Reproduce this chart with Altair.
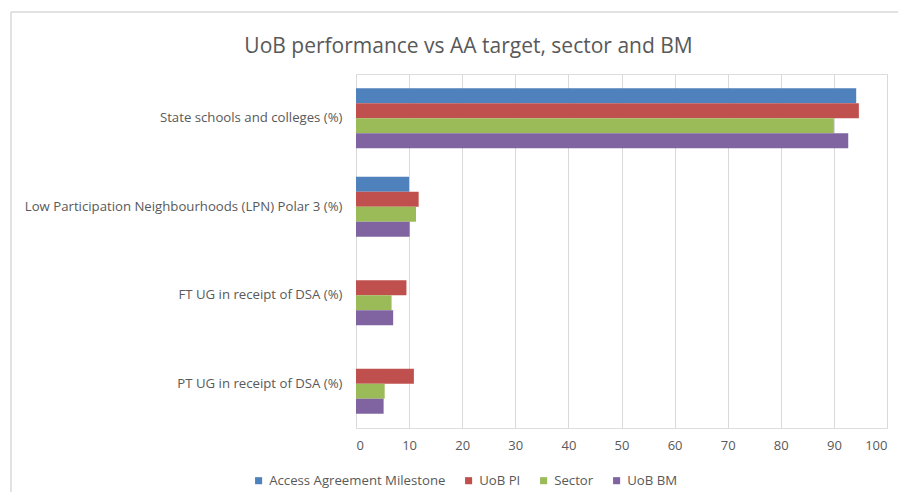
import altair as alt
import pandas as pd

categories = [
    "State schools and colleges (%)",
    "Low Participation Neighbourhoods (LPN) Polar 3 (%)",
    "FT UG in receipt of DSA (%)",
    "PT UG in receipt of DSA (%)",
]
series = ["Access Agreement Milestone", "UoB PI", "Sector", "UoB BM"]
colors = ["#4F81BD", "#C0504D", "#9BBB59", "#8064A2"]

access_milestone = [94.2, 10.0, None, None]
uob_pi = [94.7, 11.8, 9.5, 10.9]
sector = [90.0, 11.3, 6.7, 5.4]
uob_bm = [92.7, 10.1, 7.0, 5.2]

tick_values = [0, 10, 20, 30, 40, 50, 60, 70, 80, 90, 100]

rows = []
for s, vals in zip(series, [access_milestone, uob_pi, sector, uob_bm]):
    for c, v in zip(categories, vals):
        if v is not None:
            rows.append({"category": c, "series": s, "value": v})
df = pd.DataFrame(rows)

FONT = "Open Sans"
GREY = "#595959"
one = pd.DataFrame({"a": [0]})

frame_top = alt.Chart(one).mark_rule(stroke="#D9D9D9", strokeWidth=1.5).encode(
    x=alt.value(-345), x2=alt.value(542), y=alt.value(-62),
)
frame_left = alt.Chart(one).mark_rule(stroke="#D9D9D9", strokeWidth=1.5).encode(
    x=alt.value(-345), y=alt.value(-62), y2=alt.value(418),
)

bars = alt.Chart(df).mark_bar().encode(
    x=alt.X("value:Q",
            scale=alt.Scale(domain=[0, 100], nice=False),
            axis=alt.Axis(values=tick_values, title=None, domain=False, ticks=False,
                          grid=True, gridColor="#D9D9D9", gridWidth=1,
                          labelColor=GREY, labelFontSize=13, labelFont=FONT,
                          labelPadding=11)),
    y=alt.Y("category:N", sort=categories,
            scale=alt.Scale(paddingInner=0.322, paddingOuter=0.161),
            axis=alt.Axis(title=None, domain=False, ticks=False, grid=False,
                          labelColor=GREY, labelFontSize=13.2, labelFont=FONT,
                          labelPadding=14, labelLimit=500)),
    yOffset=alt.YOffset("series:N", sort=series,
                        scale=alt.Scale(paddingInner=0, paddingOuter=0)),
    color=alt.Color("series:N", sort=series,
                    scale=alt.Scale(domain=series, range=colors),
                    legend=alt.Legend(title=None, orient="none", direction="horizontal",
                                      legendX=-104, legendY=400,
                                      symbolType="square", symbolSize=50,
                                      symbolStrokeWidth=0, labelFont=FONT,
                                      labelFontSize=13.2, labelColor=GREY,
                                      labelLimit=400,
                                      columnPadding=16, labelOffset=4)),
)

chart = alt.layer(frame_top, frame_left, bars).properties(
    width=531,
    height=354,
    title=alt.Title("UoB performance vs AA target, sector and BM",
                    anchor="middle", dx=-153, offset=-46,
                    font=FONT, fontSize=21, fontWeight="normal", color=GREY),
    autosize=alt.AutoSizeParams(type="none"),
    padding={"left": 348, "top": 66, "right": 12, "bottom": 66},
).configure_view(stroke=None).configure(background="white")

chart.save("out.html", embed_options={"renderer": "svg", "actions": False})
